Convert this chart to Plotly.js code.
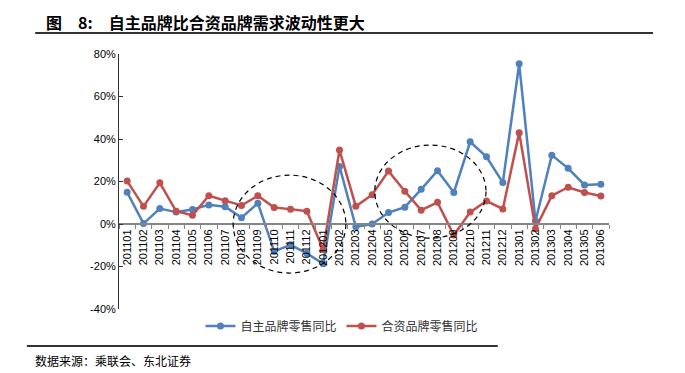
<!DOCTYPE html>
<html><head><meta charset="utf-8">
<script src="https://cdn.plot.ly/plotly-3.0.1.min.js"></script>
<style>html,body{margin:0;padding:0;background:#fff}#c{width:685px;height:373px}</style>
</head><body><div id="c"></div>
<script>
const months = ["201101","201102","201103","201104","201105","201106","201107","201108","201109","201110","201111","201112",
"201201","201202","201203","201204","201205","201206","201207","201208","201209","201210","201211","201212",
"201301","201302","201303","201304","201305","201306"];
const domestic = [14.9,0.2,7.3,5.6,6.8,9.0,8.1,3.0,9.8,-12.9,-9.8,-13.8,
-18.7,27.1,-1.3,0.0,5.4,7.9,16.3,25.1,14.8,38.7,31.6,19.5,
75.4,1.4,32.4,26.2,18.4,18.7];
const jointVenture = [20.2,8.3,19.4,6.0,4.1,13.3,11.0,8.7,13.3,7.8,7.0,6.0,
-12.0,34.8,8.3,13.8,24.9,15.4,6.5,10.2,-5.2,5.6,10.8,7.1,
43.0,-2.2,13.3,17.3,14.8,13.2];
const yTickVals = [-40,-20,0,20,40,60,80];
const yTickText = ["-40%","-20%","0%","20%","40%","60%","80%"];
const seriesNames = ["自主品牌零售同比","合资品牌零售同比"];
const titleText = "图\u2002\u20028:\u3000自主品牌比合资品牌需求波动性更大";
const sourceText = "数据来源：乘联会、东北证券";

const yRange = [-40, 80];
const zeroPos = (0 - yRange[0]) / (yRange[1] - yRange[0]);

const traces = [
  {x: months, y: domestic, name: seriesNames[0], type: 'scatter', mode: 'lines+markers',
   line: {color: '#4F81BD', width: 2.5}, marker: {color: '#4F81BD', size: 7}},
  {x: months, y: jointVenture, name: seriesNames[1], type: 'scatter', mode: 'lines+markers',
   line: {color: '#C0504D', width: 2.5}, marker: {color: '#C0504D', size: 7}}
];

const layout = {
  width: 685, height: 373,
  margin: {l: 119, r: 76, t: 54, b: 64},
  paper_bgcolor: '#fff', plot_bgcolor: '#fff',
  font: {family: 'Liberation Sans, Arial, sans-serif', color: '#000', size: 11},
  showlegend: true,
  legend: {orientation: 'h', x: 0.455, xanchor: 'center', y: -0.067, yanchor: 'middle',
    font: {family: 'Noto Sans CJK SC, sans-serif', size: 12, color: '#333'}, itemwidth: 30, tracegroupgap: 0},
  xaxis: {type: 'category', anchor: 'free', position: zeroPos, showline: true, linecolor: '#868686', linewidth: 2,
    ticks: 'outside', ticklen: 4, tickcolor: '#868686', tickson: 'boundaries', tickangle: -90,
    showgrid: false, zeroline: false, tickfont: {size: 11, color: '#000'}, range: [-0.5, months.length - 0.5], automargin: false},
  yaxis: {range: yRange, tickvals: yTickVals, ticktext: yTickText, showline: true, linecolor: '#333', linewidth: 1,
    ticks: 'inside', ticklen: 4, tickcolor: '#333', showgrid: false, zeroline: false, tickfont: {size: 11, color: '#000'}, automargin: false},
  shapes: [
    {type: 'circle', xref: 'paper', yref: 'paper', x0: 0.233, x1: 0.463, y0: 0.141, y1: 0.525, line: {color: '#000', width: 1.2, dash: '5px,4px'}},
    {type: 'circle', xref: 'paper', yref: 'paper', x0: 0.522, x1: 0.749, y0: 0.278, y1: 0.643, line: {color: '#000', width: 1.2, dash: '5px,4px'}},
    {type: 'line', xref: 'paper', yref: 'paper', x0: -0.171, x1: 1.090, y0: 1.082, y1: 1.082, line: {color: '#333', width: 2}},
    {type: 'line', xref: 'paper', yref: 'paper', x0: -0.188, x1: 0.773, y0: -0.145, y1: -0.145, line: {color: '#333', width: 2}}
  ],
  annotations: [
    {text: '<b>' + titleText + '</b>', xref: 'paper', yref: 'paper', x: -0.153, y: 1.125, xanchor: 'left', yanchor: 'middle',
     showarrow: false, font: {family: 'Noto Sans CJK SC, sans-serif', size: 16, color: '#000'}},
    {text: sourceText, xref: 'paper', yref: 'paper', x: -0.176, y: -0.2, xanchor: 'left', yanchor: 'middle',
     showarrow: false, font: {family: 'Noto Sans CJK SC, sans-serif', size: 12, color: '#000'}}
  ]
};
Plotly.newPlot('c', traces, layout, {displayModeBar: false, staticPlot: true});
</script></body></html>
